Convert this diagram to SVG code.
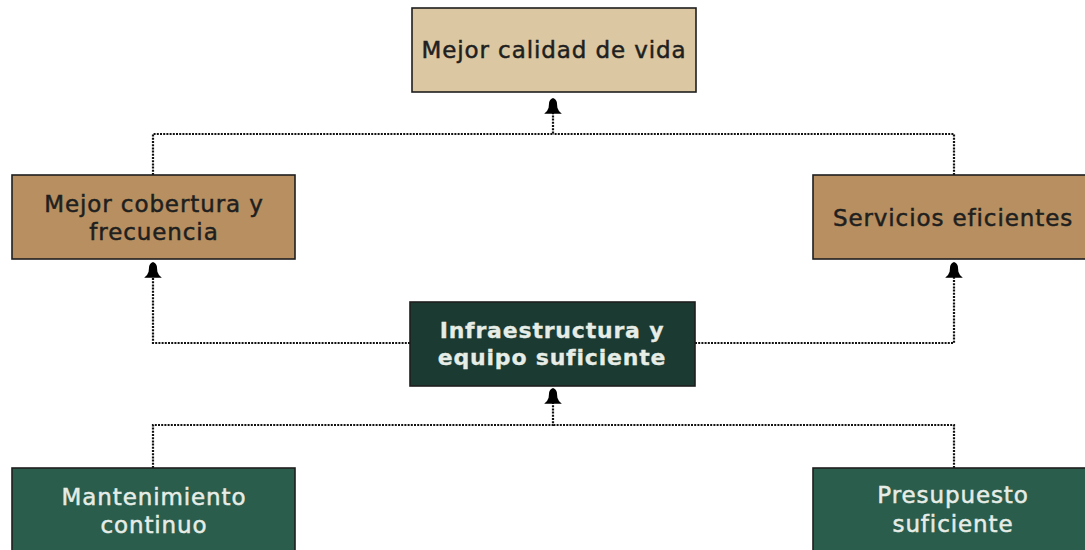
<svg xmlns="http://www.w3.org/2000/svg" width="1085" height="550" viewBox="0 0 1085 550">
<style>
.box{stroke:#1e1e1e;stroke-width:1.6}
.tan1{fill:#dbc7a1}
.tan2{fill:#b78f60}
.dk{fill:#1b3a31}
.gr{fill:#2a5d4b}
.t{font-family:"DejaVu Sans","Liberation Sans",Arial,sans-serif;font-size:23px;letter-spacing:0.9px;text-anchor:middle;stroke-width:0.5px}
.dark{fill:#1f1f1f;stroke:#1f1f1f}
.light{fill:#e6ece6;stroke:#e6ece6}
.b{font-weight:bold;font-size:22px;letter-spacing:0.8px;stroke-width:0.3px}
.c{fill:none;stroke:#111;stroke-width:2.2;stroke-dasharray:2 1.2}
</style>
<defs>
<marker id="ah" markerUnits="userSpaceOnUse" markerWidth="22" markerHeight="22" viewBox="-15 -10 17 20" refX="0" refY="0" orient="auto">
<path d="M1,0 Q0,-3 -3,-3.5 L-8,-4 Q-11.5,-5 -13.5,-8 L-13.5,8 Q-11.5,5 -8,4 L-3,3.5 Q0,3 1,0 Z" fill="#000"/>
</marker>
</defs>
<g id="connectors">
<path class="c" d="M153,175 V134 H553 V99" marker-end="url(#ah)"/>
<path class="c" d="M954,175 V134 H553"/>
<path class="c" d="M410,343 H153 V263" marker-end="url(#ah)"/>
<path class="c" d="M695,343 H954 V263" marker-end="url(#ah)"/>
<path class="c" d="M153,468 V425 H553 V389" marker-end="url(#ah)"/>
<path class="c" d="M954,468 V425 H553"/>
</g>
<g id="n-calidad">
<rect class="box tan1" x="412" y="8" width="284" height="84"/>
<text class="t dark" x="554" y="58">Mejor calidad de vida</text>
</g>
<g id="n-cobertura">
<rect class="box tan2" x="12" y="175" width="283" height="84"/>
<text class="t dark" x="154" y="212">Mejor cobertura y</text>
<text class="t dark" x="154" y="240">frecuencia</text>
</g>
<g id="n-servicios">
<rect class="box tan2" x="813" y="175" width="284" height="84"/>
<text class="t dark" x="953" y="226">Servicios eficientes</text>
</g>
<g id="n-infra">
<rect class="box dk" x="410" y="302" width="285" height="84"/>
<text class="t b light" x="552" y="338">Infraestructura y</text>
<text class="t b light" x="552" y="365">equipo suficiente</text>
</g>
<g id="n-mantenimiento">
<rect class="box gr" x="12" y="468" width="283" height="90"/>
<text class="t light" x="154" y="505">Mantenimiento</text>
<text class="t light" x="154" y="533">continuo</text>
</g>
<g id="n-presupuesto">
<rect class="box gr" x="813" y="468" width="284" height="90"/>
<text class="t light" x="953" y="503">Presupuesto</text>
<text class="t light" x="953" y="532">suficiente</text>
</g>
</svg>
